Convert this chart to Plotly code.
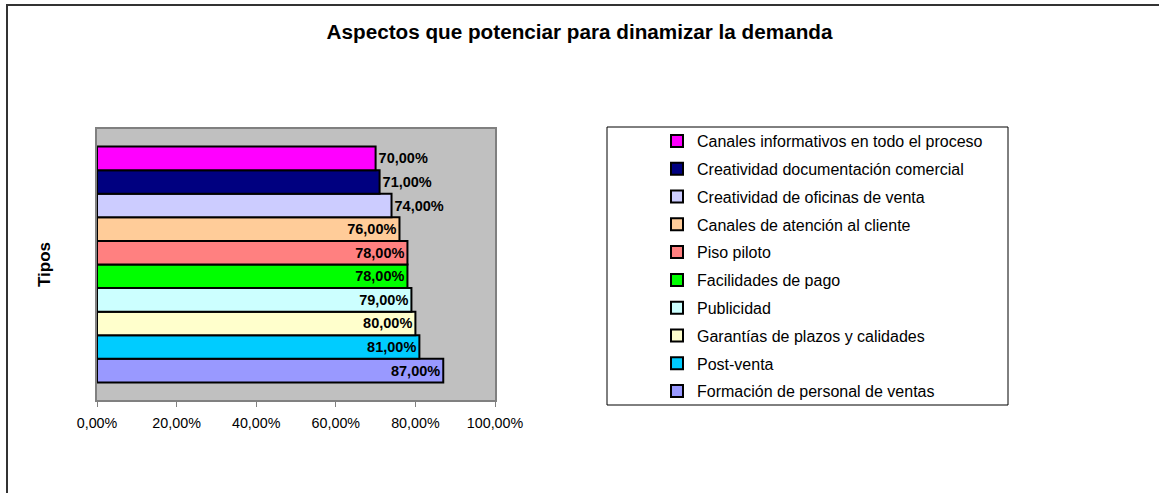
import plotly.graph_objects as go

# Data (bottom bar first)
categories = [
    "Formación de personal de ventas",
    "Post-venta",
    "Garantías de plazos y calidades",
    "Publicidad",
    "Facilidades de pago",
    "Piso piloto",
    "Canales de atención al cliente",
    "Creatividad de oficinas de venta",
    "Creatividad documentación comercial",
    "Canales informativos en todo el proceso",
]
values = [87, 81, 80, 79, 78, 78, 76, 74, 71, 70]
colors = ["#9999FF", "#00CCFF", "#FFFFCC", "#CCFFFF", "#00FF00",
          "#FF8080", "#FFCC99", "#CCCCFF", "#000080", "#FF00FF"]
label_pos = ["inside", "inside", "inside", "inside", "inside",
             "inside", "inside", "outside", "outside", "outside"]
x_ticks = [0, 20, 40, 60, 80, 100]
x_tick_labels = ["0,00%", "20,00%", "40,00%", "60,00%", "80,00%", "100,00%"]

W, H = 1159, 493
L, R, T, B = 97, 664, 129, 93
PW = W - L - R
PH = H - T - B


def px_x(p):
    return (p - L) / PW


def px_y(p):
    return (H - B - p) / PH


FONT = "Liberation Sans, Arial, sans-serif"

fig = go.Figure()
n = len(categories)
for i, (cat, v, c, pos) in enumerate(zip(categories, values, colors, label_pos)):
    fig.add_trace(go.Bar(
        y=[0], x=[v], name=cat, orientation="h",
        marker=dict(color=c, line=dict(color="black", width=2)),
        texttemplate="%{x:.2f}%", textposition=pos,
        insidetextanchor="end",
        textfont=dict(family=FONT, size=14.5, color="black", weight="bold"),
        constraintext="none", cliponaxis=False,
        legendgroup=f"g{i}", legendrank=100 + (n - i),
    ))

fig.update_layout(
    width=W, height=H,
    margin=dict(l=L, r=R, t=T, b=B, autoexpand=False),
    paper_bgcolor="white",
    plot_bgcolor="#C0C0C0",
    separators=",.",
    barmode="group", bargap=0.13, bargroupgap=0,
    font=dict(family=FONT, color="black"),
    title=dict(text="<b>Aspectos que potenciar para dinamizar la demanda</b>",
               x=0.5, xref="container", xanchor="center",
               y=1 - 32 / H, yref="container", yanchor="middle",
               font=dict(size=20.7, family=FONT, color="black")),
    showlegend=True,
    legend=dict(
        x=px_x(657), y=px_y(124), xanchor="left", yanchor="top",
        traceorder="grouped", tracegroupgap=4, maxheight=450,
        bgcolor="rgba(0,0,0,0)", borderwidth=0,
        font=dict(size=16, family=FONT, color="black"),
    ),
    xaxis=dict(
        range=[0, 100], tickvals=x_ticks, ticktext=x_tick_labels,
        showgrid=False, zeroline=False,
        showline=True, linecolor="#808080", linewidth=2, mirror=True,
        ticks="outside", ticklen=5, tickcolor="#808080", tickwidth=1,
        tickfont=dict(size=14.3, family=FONT, color="black"),
        ticklabelstandoff=4,
    ),
    yaxis=dict(
        range=[-0.5, 0.5], showticklabels=False, showgrid=False, zeroline=False,
        showline=True, linecolor="#808080", linewidth=2, mirror=True,
        title=dict(text="<b>Tipos</b>", standoff=40,
                   font=dict(size=17, family=FONT, color="black")),
    ),
    shapes=[
        # outer chart frame
        dict(type="rect", xref="paper", yref="paper",
             x0=px_x(7), x1=px_x(1175), y0=px_y(510), y1=px_y(5),
             line=dict(color="#333333", width=2), fillcolor="rgba(0,0,0,0)",
             layer="below"),
        # legend frame
        dict(type="rect", xref="paper", yref="paper",
             x0=px_x(607), x1=px_x(1008), y0=px_y(405), y1=px_y(127),
             line=dict(color="black", width=1), fillcolor="rgba(0,0,0,0)"),
    ],
)

fig.write_html("out.html",
               config={"displayModeBar": False},
               post_script="document.body.style.margin='0';"
                           "document.body.style.overflow='hidden';")
